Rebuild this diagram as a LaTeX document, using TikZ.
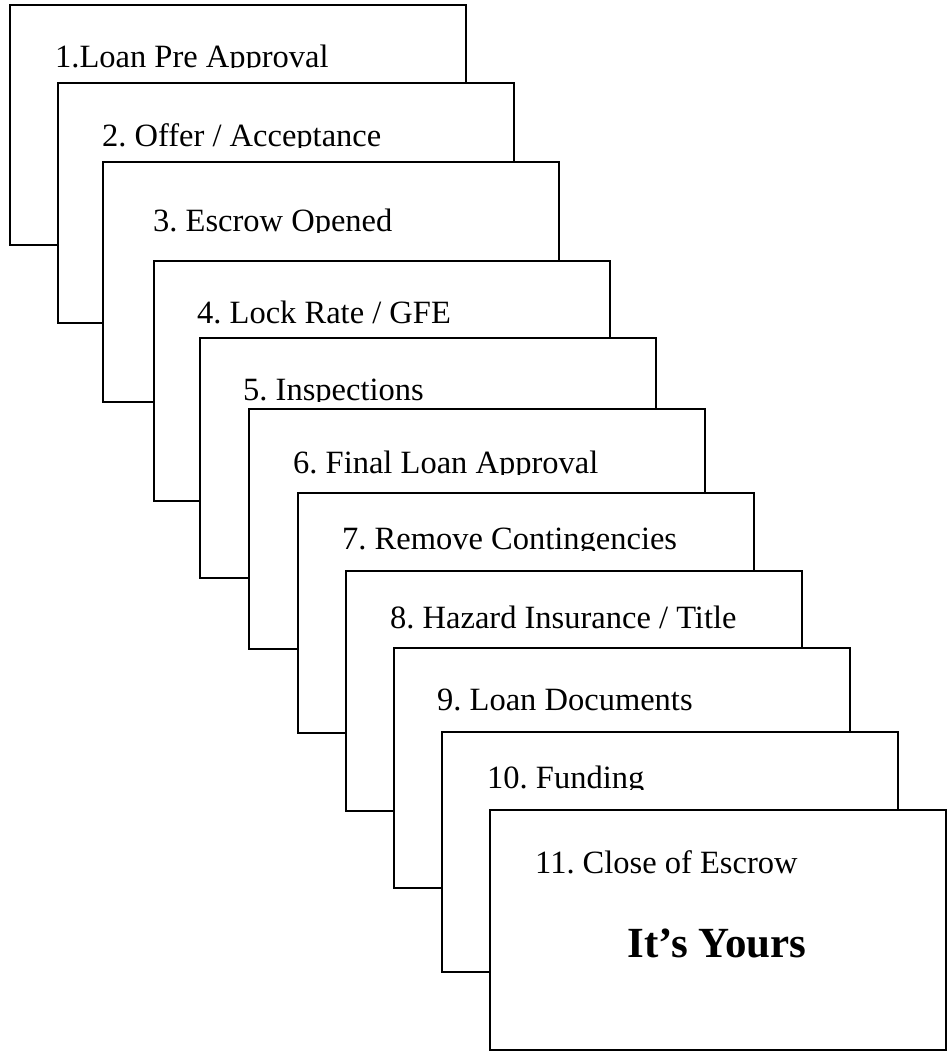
\documentclass[tikz,border=0pt]{standalone}
\usepackage{fontspec}
\setmainfont{Liberation Serif}
\usepackage{tikz}
\frenchspacing

\begin{document}
\begin{tikzpicture}[x=1pt, y=-1pt,
  card/.style={draw, fill=white, line width=1.8pt, anchor=north west,
    minimum width=456pt, minimum height=240pt, inner sep=0pt, outer sep=0pt},
  steplabel/.style={anchor=base west, inner sep=0pt,
    font=\fontsize{32.5}{38}\selectfont}] % {{{
\useasboundingbox (0,0) rectangle (948,1057);
% number / left / top / text indent / baseline / text
\foreach \n/\x/\y/\dx/\b/\txt in {
    1/10/5/45/62/{1.Loan Pre Approval},
    2/58/83/44/63/{2. Offer / Acceptance},
    3/103/162/50/69/{3. Escrow Opened},
    4/154/261/43/62/{4. Lock Rate / GFE},
    5/200/338/43/62/{5. Inspections},
    6/249/409/44/64/{6. Final Loan Approval},
    7/298/493/44/56/{7. Remove Contingencies},
    8/346/571/44/57/{8. Hazard Insurance / Title},
    9/394/648/43/62/{9. Loan Documents},
    10/442/732/45/56/{10. Funding},
    11/490/810/45/63/{11. Close of Escrow}} {
  \begin{scope}[shift={(\x,\y)}] % card \n {{{
    \node[card] (card\n) at (0,0) {};
    \begin{scope}
      \clip (0,0) rectangle (456,\b+1);
      \node[steplabel] (label\n) at (\dx,\b) {\txt};
    \end{scope}
  \end{scope} % }}}
}
% last card
\node[anchor=base, inner sep=0pt, font=\fontsize{43}{50}\selectfont\bfseries]
  (yours) at (717,957) {It’s Yours};
\end{tikzpicture} % }}}
\end{document}
